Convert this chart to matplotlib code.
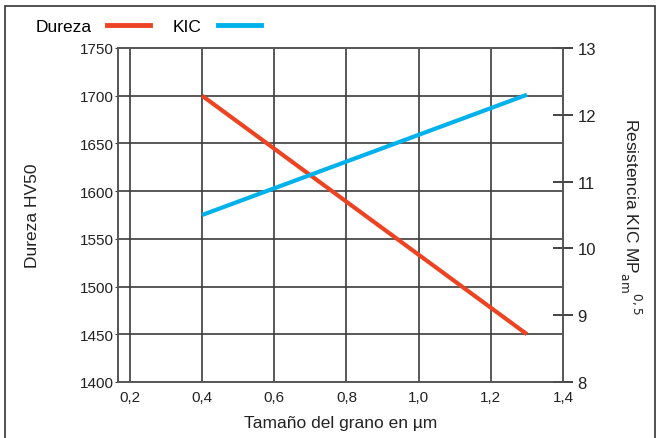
import numpy as np
import matplotlib.pyplot as plt
from matplotlib.lines import Line2D
from matplotlib.patches import Rectangle

plt.rcParams['font.family'] = ['Liberation Sans', 'DejaVu Sans']

# data
grano = [0.4, 1.3]
dureza = [1700, 1450]
kic = [10.5, 12.3]

xticks = [0.2, 0.4, 0.6, 0.8, 1.0, 1.2, 1.4]
yticks_left = [1400, 1450, 1500, 1550, 1600, 1650, 1700, 1750]
yticks_right = [8, 9, 10, 11, 12, 13]

red = '#ec4423'
blue = '#00b1ec'
grid_col = '#3c3c3c'

fig = plt.figure(figsize=(6.57, 4.39), dpi=100)
ax = fig.add_axes([0.1796, 0.1276, 0.857 - 0.1796, 0.8884 - 0.1276])
ax2 = ax.twinx()

ax.set_xlim(0.167, 1.4)
ax.set_ylim(1400, 1750)
ax2.set_ylim(8, 13)

for x in xticks[:-1]:
    ax.axvline(x, color=grid_col, lw=1.2, zorder=1)
for y in yticks_left[1:-1]:
    ax.axhline(y, color=grid_col, lw=1.2, zorder=1)

ax.plot(grano, dureza, color=red, lw=3, solid_capstyle='butt', zorder=3)
ax2.plot(grano, kic, color=blue, lw=3, solid_capstyle='butt', zorder=3)

ax.set_xticks(xticks)
ax.set_xticklabels([f'{v:.1f}'.replace('.', ',') for v in xticks], fontsize=11, color='#222222')
ax.set_yticks(yticks_left)
ax.set_yticklabels([str(v) for v in yticks_left], fontsize=11, color='#222222')
ax.tick_params(axis='x', length=0, pad=6)
ax.tick_params(axis='y', length=2, pad=1, color=grid_col)

ax2.set_yticks(yticks_right)
ax2.set_yticklabels([str(v) for v in yticks_right], fontsize=12, color='#222222')
ax2.tick_params(axis='y', direction='inout', length=15, width=1.2, color='#222222', pad=3)

for a in (ax, ax2):
    for s in a.spines.values():
        s.set_color('#555555')
        s.set_linewidth(1.2)

ax.set_xlabel('Tamaño del grano en µm', fontsize=12.5, color='#222222', labelpad=8)
ax.set_ylabel('Dureza HV50', fontsize=12.5, color='#222222', labelpad=29)
ax2.set_ylabel(r'Resistencia KIC MP$_{\mathrm{am}}^{\ \ \ \ \ 0,5}$', fontsize=12.5,
               color='#222222', rotation=270, labelpad=34)

# legend outside the axes, top left
handles = [Line2D([], [], color=red, lw=3.5), Line2D([], [], color=blue, lw=3.5)]
fig.legend(handles, ['Dureza', 'KIC'], loc='upper left', bbox_to_anchor=(0.03, 0.99),
           ncol=2, frameon=False, fontsize=12.5, markerfirst=False,
           handlelength=2.5, columnspacing=1.3, handletextpad=0.9)

# outer frame
fig.patches.append(Rectangle((5 / 657, -0.05), 650 / 657, 1.05 - 7 / 439,
                             transform=fig.transFigure, fill=False,
                             edgecolor='#333333', lw=1.2))

fig.savefig('out.png', dpi=100)
